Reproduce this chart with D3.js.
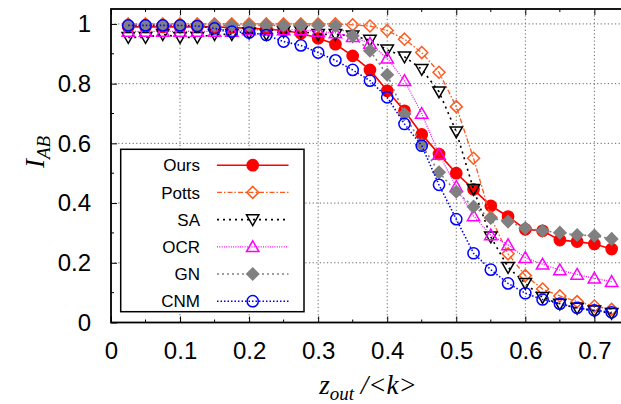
<!DOCTYPE html>
<head>
<meta charset="UTF-8">
<title>I_AB vs z_out/k</title>
<style>
body { margin: 0; background: #fff; }
.tick text { font: 24px "Liberation Sans", Arial, sans-serif; fill: #000; }
.grid line { stroke: #666; stroke-width: 1; stroke-dasharray: 1.2,2.4; }
.legend text { font: 17px "Liberation Sans", Arial, sans-serif; }
.axislabel { font-family: "Liberation Serif", "Times New Roman", serif; font-style: italic; }
</style>
<body>
<script src="https://cdn.jsdelivr.net/npm/d3@7"></script>
<script>

// z_out / <k>
var zout = [0.025, 0.05, 0.075, 0.1, 0.125, 0.15, 0.175, 0.2, 0.225, 0.25,
            0.275, 0.3, 0.325, 0.35, 0.375, 0.4, 0.425, 0.45, 0.475, 0.5,
            0.525, 0.55, 0.575, 0.6, 0.625, 0.65, 0.675, 0.7, 0.725];

var ours  = [0.99, 0.99, 0.99, 0.99, 0.99, 0.99, 0.988, 0.985, 0.983, 0.978,
             0.969, 0.952, 0.932, 0.893, 0.846, 0.776, 0.709, 0.630, 0.564, 0.500,
             0.446, 0.391, 0.355, 0.312, 0.307, 0.276, 0.271, 0.263, 0.246];
var potts = [1.0, 1.0, 1.0, 1.0, 1.0, 1.0, 1.0, 1.0, 1.0, 1.0,
             1.0, 1.0, 1.0, 0.997, 0.993, 0.978, 0.949, 0.904, 0.838, 0.723,
             0.55, 0.352, 0.23, 0.157, 0.112, 0.089, 0.070, 0.055, 0.044];
var sa    = [0.955, 0.955, 0.965, 0.955, 0.955, 0.965, 0.965, 0.97, 0.965, 0.975,
             0.975, 0.965, 0.965, 0.96, 0.946, 0.913, 0.89, 0.848, 0.773, 0.639,
             0.446, 0.287, 0.185, 0.131, 0.084, 0.062, 0.048, 0.039, 0.031];
var ocr   = [0.975, 0.975, 0.975, 0.975, 0.975, 0.975, 0.975, 0.98, 0.98, 0.98,
             0.98, 0.975, 0.97, 0.957, 0.935, 0.885, 0.81, 0.70, 0.563, 0.455,
             0.357, 0.293, 0.26, 0.217, 0.195, 0.176, 0.161, 0.148, 0.137];
var gn    = [0.995, 0.995, 0.995, 0.995, 0.995, 0.995, 0.995, 0.995, 0.995, 0.995,
             0.995, 0.995, 0.993, 0.96, 0.91, 0.83, 0.698, 0.595, 0.503, 0.438,
             0.388, 0.35, 0.338, 0.316, 0.307, 0.301, 0.293, 0.291, 0.28];
var cnm   = [0.995, 0.995, 0.995, 0.995, 0.993, 0.985, 0.974, 0.971, 0.963, 0.941,
             0.928, 0.904, 0.878, 0.846, 0.81, 0.754, 0.665, 0.592, 0.461, 0.346,
             0.232, 0.177, 0.131, 0.098, 0.077, 0.063, 0.049, 0.041, 0.034];

var names  = ["Ours", "Potts", "SA", "OCR", "GN", "CNM"];
var values = [ours, potts, sa, ocr, gn, cnm];

var xTicks = [0, 0.1, 0.2, 0.3, 0.4, 0.5, 0.6, 0.7];
var yTicks = [0, 0.2, 0.4, 0.6, 0.8, 1];

// look of each series: colour, dash, marker
var styles = [
  {color: "#ff0000", dash: null,          width: 1.6, mark: "circle",  fill: true},
  {color: "#ff5a1e", dash: "5,2,1.5,2",   width: 1.3, mark: "diamond", fill: false},
  {color: "#000000", dash: "2,4",         width: 1.6, mark: "down",    fill: false},
  {color: "#ff00ff", dash: "1,1.3",       width: 1.2, mark: "up",      fill: false},
  {color: "#808080", dash: "2,3",         width: 1.6, mark: "diamond", fill: true},
  {color: "#0000ff", dash: "1.5,2",       width: 1.6, mark: "circle",  fill: false}
];

var W = 621, H = 404;
var margin = {top: 9, left: 111};
var plotW = 511, plotH = 313.5;

var svg = d3.select("body").append("svg")
    .attr("width", W)
    .attr("height", H);

var x = d3.scaleLinear().domain([0, 0.74]).range([margin.left, margin.left + plotW]);
var y = d3.scaleLinear().domain([0, 1.05]).range([margin.top + plotH, margin.top]);

var x0 = x(0), x1 = x(0.74), yb = y(0), yt = y(1.05);

// grid
var grid = svg.append("g").attr("class", "grid");
grid.selectAll("line.gx").data(xTicks.slice(1)).enter().append("line")
    .attr("x1", d => x(d)).attr("x2", d => x(d))
    .attr("y1", yb).attr("y2", yt);
grid.selectAll("line.gy").data(yTicks.slice(1)).enter().append("line")
    .attr("y1", d => y(d)).attr("y2", d => y(d))
    .attr("x1", x0).attr("x2", x1);

// axes, ticks point inward
var fmt = d3.format("");
svg.append("g")
    .attr("transform", "translate(0," + yb + ")")
    .call(d3.axisBottom(x).tickValues(xTicks).tickFormat(fmt).tickSize(-6).tickSizeOuter(0))
    .call(g => g.select(".domain").remove())
    .call(g => g.selectAll("text").attr("y", 19));
svg.append("g")
    .attr("transform", "translate(" + x0 + ",0)")
    .call(d3.axisLeft(y).tickValues(yTicks).tickFormat(fmt).tickSize(-6).tickSizeOuter(0))
    .call(g => g.select(".domain").remove())
    .call(g => g.selectAll("text").attr("x", -20));
// mirrored ticks on top
svg.append("g")
    .attr("transform", "translate(0," + yt + ")")
    .call(d3.axisTop(x).tickValues(xTicks).tickFormat("").tickSize(-6).tickSizeOuter(0))
    .call(g => g.select(".domain").remove());

// minor ticks
var minor = svg.append("g").attr("stroke", "#000").attr("stroke-width", 1);
xTicks.forEach(function(t) {
  var m = t + 0.05;
  minor.append("line").attr("x1", x(m)).attr("x2", x(m)).attr("y1", yb).attr("y2", yb - 3);
  minor.append("line").attr("x1", x(m)).attr("x2", x(m)).attr("y1", yt).attr("y2", yt + 3);
});
yTicks.slice(0, -1).forEach(function(t) {
  var m = t + 0.1;
  minor.append("line").attr("x1", x0).attr("x2", x0 + 3).attr("y1", y(m)).attr("y2", y(m));
});

// frame
svg.append("rect")
    .attr("x", x0).attr("y", yt)
    .attr("width", x1 - x0).attr("height", yb - yt)
    .attr("fill", "none").attr("stroke", "#000").attr("stroke-width", 1.8);

// markers
function markPath(kind) {
  if (kind === "diamond") return "M0,-6L6,0L0,6L-6,0Z";
  if (kind === "up")      return "M0,-6L6.2,4.8L-6.2,4.8Z";
  if (kind === "down")    return "M0,6L6.2,-4.8L-6.2,-4.8Z";
  return null;
}
function drawMark(g, st, cx, cy) {
  var fill = st.fill ? st.color : "none";
  if (st.mark === "circle") {
    g.append("circle").attr("cx", cx).attr("cy", cy).attr("r", 5.6)
      .attr("fill", fill).attr("stroke", st.color).attr("stroke-width", 1.5);
  } else {
    g.append("path").attr("d", markPath(st.mark))
      .attr("transform", "translate(" + cx + "," + cy + ")")
      .attr("fill", fill).attr("stroke", st.color).attr("stroke-width", 1.5);
  }
}

var line = d3.line().x(d => x(d[0])).y(d => y(d[1]));

// series, in the order they were plotted
values.forEach(function(vals, k) {
  var st = styles[k];
  var pts = zout.map((z, i) => [z, vals[i]]);
  var g = svg.append("g");
  g.append("path")
      .datum(pts)
      .attr("d", line)
      .attr("fill", "none")
      .attr("stroke", st.color)
      .attr("stroke-width", st.width)
      .attr("stroke-dasharray", st.dash);
  pts.forEach(p => drawMark(g, st, x(p[0]), y(p[1])));
});

// legend
var lg = svg.append("g").attr("class", "legend");
lg.append("rect")
    .attr("x", 120.7).attr("y", 149.3)
    .attr("width", 183.3).attr("height", 162.4)
    .attr("fill", "#fff").attr("stroke", "#000").attr("stroke-width", 1.5);
names.forEach(function(n, k) {
  var st = styles[k];
  var ry = 165.2 + k * 27.2;
  lg.append("text")
      .attr("x", 200).attr("y", ry).attr("dy", "0.36em")
      .attr("text-anchor", "end")
      .text(n);
  lg.append("line")
      .attr("x1", 217).attr("x2", 288.5).attr("y1", ry).attr("y2", ry)
      .attr("stroke", st.color)
      .attr("stroke-width", st.width)
      .attr("stroke-dasharray", st.dash);
  drawMark(lg, st, 252.7, ry);
});

// axis titles
var yl = svg.append("text")
    .attr("class", "axislabel")
    .attr("transform", "translate(44,152) rotate(-90)")
    .attr("text-anchor", "middle");
yl.append("tspan").attr("font-size", 27).text("I");
yl.append("tspan").attr("font-size", 19).attr("dy", 6).text("AB");

var xl = svg.append("text")
    .attr("class", "axislabel")
    .attr("x", 368).attr("y", 394)
    .attr("text-anchor", "middle");
xl.append("tspan").attr("font-size", 27).text("z");
xl.append("tspan").attr("font-size", 19).attr("dy", 6).text("out");
xl.append("tspan").attr("font-size", 27).attr("dy", -6).text(" /<k>");

</script>
</body>
